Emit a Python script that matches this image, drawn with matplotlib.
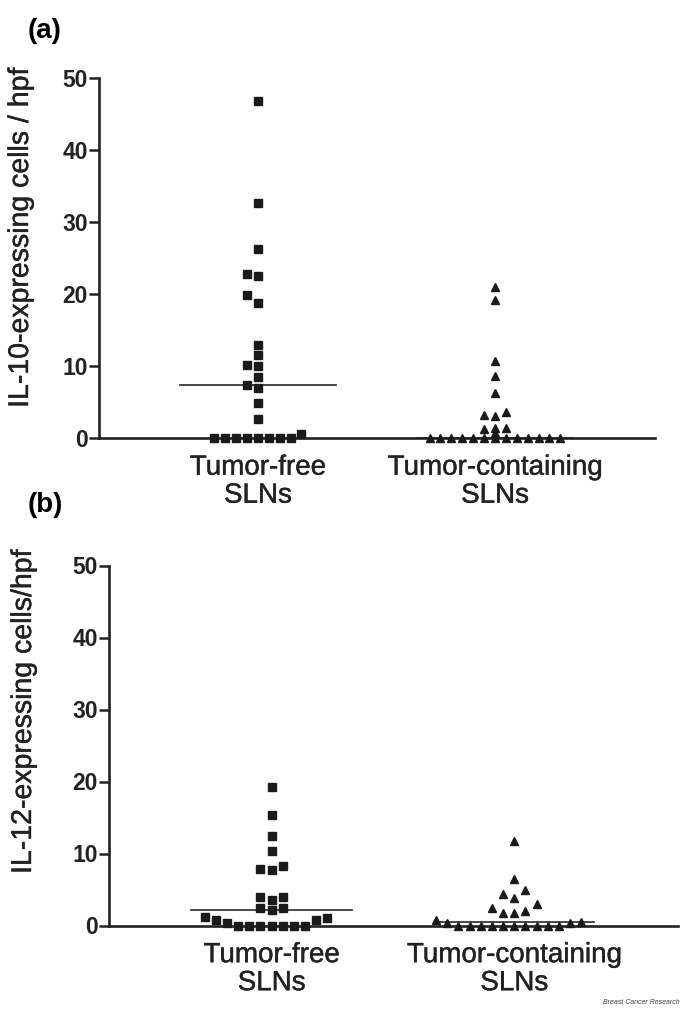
import numpy as np
import matplotlib.pyplot as plt
import matplotlib.patheffects as pe

plt.rcParams['font.family'] = ['Liberation Sans', 'DejaVu Sans']

groups = ['Tumor-free\nSLNs', 'Tumor-containing\nSLNs']
yticks = [0, 10, 20, 30, 40, 50]

# IL-10 expressing cells / hpf
il10_free = [46.8, 32.7, 26.3, 22.8, 22.5, 19.8, 18.7, 12.9, 11.5, 10.1, 10.0, 8.5,
             7.4, 7.0, 4.9, 2.6, 0.5, 0, 0, 0, 0, 0, 0, 0, 0]
il10_tumor = [21.0, 19.2, 10.7, 8.6, 6.3, 3.6, 3.2, 3.0, 1.4, 1.4, 1.2, 0.65,
              0, 0, 0, 0, 0, 0, 0, 0, 0, 0, 0, 0, 0]

# IL-12 expressing cells / hpf
il12_free = [19.3, 15.3, 12.5, 10.3, 8.2, 7.9, 7.7, 4.0, 3.9, 3.5, 2.5, 2.5, 2.1,
             1.2, 1.1, 0.8, 0.7, 0.3, 0, 0, 0, 0, 0, 0, 0]
il12_tumor = [11.8, 6.4, 5.0, 4.4, 3.8, 3.0, 2.4, 2.0, 1.8, 1.8, 0.7, 0.5, 0.4, 0.4,
              0, 0, 0, 0, 0, 0, 0, 0, 0, 0]

heavy = [pe.withStroke(linewidth=0.3, foreground='#222222')]


def swarm(vals, slot=0.046, gap=1.25):
    # greedy column layout: 0, -1, +1, -2, +2 ... slots until no overlap
    vals = np.asarray(vals, dtype=float)
    xs = np.zeros(len(vals))
    placed = []
    for i in np.argsort(vals, kind='stable'):
        k = 0
        while True:
            off = (k + 1) // 2 * (1 if k % 2 == 0 else -1)
            if not any(o == off and abs(pv - vals[i]) < gap for o, pv in placed):
                break
            k += 1
        placed.append((off, vals[i]))
        xs[i] = off * slot
    return xs


def panel(ax, free, tumor, tri_gap):
    for pos, vals, mk, ms, gap in [(1, free, 's', 6.3, 1.25), (2, tumor, '^', 6.0, tri_gap)]:
        xs = pos + swarm(vals, gap=gap)
        ax.plot(xs, vals, ls='none', marker=mk, ms=ms, color='#1a1a1a',
                clip_on=False, zorder=3)
        med = np.median(vals)
        ax.plot([pos - 0.33, pos + 0.33], [med, med], color='#3a3a3a', lw=1.3,
                clip_on=False, zorder=2)
    ax.set_xlim(0.33, 2.675)
    ax.set_ylim(0, 50)
    ax.set_yticks(yticks)
    ax.set_yticklabels([str(t) for t in yticks], fontsize=16.5, fontweight='bold',
                       color='#222222')
    ax.set_xticks([1, 2])
    ax.set_xticklabels(groups, fontsize=20, linespacing=1.1, color='#222222')
    for t in ax.get_xticklabels():
        t.set_path_effects(heavy)
    ax.tick_params(axis='x', length=0, pad=12)
    ax.tick_params(axis='y', length=7, width=1.8, pad=1, color='#222222')
    for s in ['top', 'right']:
        ax.spines[s].set_visible(False)
    for s in ['left', 'bottom']:
        ax.spines[s].set_linewidth(1.9)
        ax.spines[s].set_color('#222222')


fig = plt.figure(figsize=(6.85, 10.1), dpi=100)
W, H = 685, 1010

ax1 = fig.add_axes([99 / W, 1 - 438 / H, 556 / W, 360 / H])
panel(ax1, il10_free, il10_tumor, 0.62)
ax2 = fig.add_axes([109 / W, 1 - 925.5 / H, 569 / W, 360 / H])
panel(ax2, il12_free, il12_tumor, 1.25)

fig.text(21 / W, 1 - 238 / H, 'IL-10-expressing cells / hpf', rotation=90,
         ha='center', va='center', fontsize=20.5, color='#222222', path_effects=heavy)
fig.text(24 / W, 1 - 712 / H, 'IL-12-expressing cells/hpf', rotation=90,
         ha='center', va='center', fontsize=20.5, color='#222222', path_effects=heavy)

fig.text(28 / W, 1 - 31 / H, '(a)', fontsize=20, fontweight='bold', va='center')
fig.text(28 / W, 1 - 505 / H, '(b)', fontsize=20, fontweight='bold', va='center')

fig.text(680 / W, 1 - 1003 / H, 'Breast Cancer Research', fontsize=5, style='italic',
         color='#444444', ha='right', va='center')

fig.savefig('out.png', dpi=100)
